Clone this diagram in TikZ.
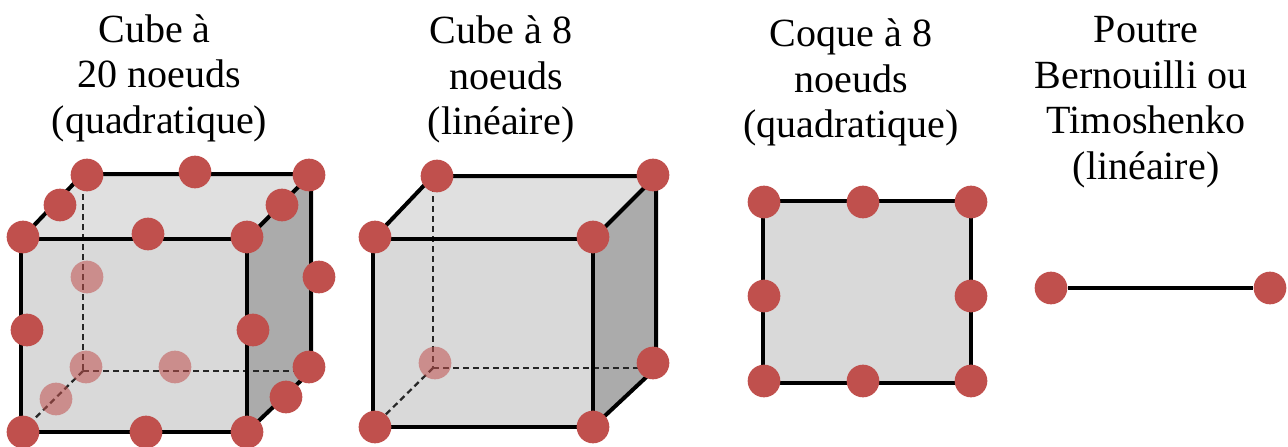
\documentclass[tikz,border=0pt]{standalone}
\usepackage{fontspec}
\setmainfont{Liberation Serif}
\definecolor{nodered}{RGB}{192,80,77}
\definecolor{frontgray}{RGB}{217,217,217}
\definecolor{topgray}{RGB}{224,224,224}
\definecolor{sidegray}{RGB}{171,171,171}
\tikzset{
  pt/.style={circle,fill=nodered,draw=none,minimum size=24.5pt,inner sep=0pt},
  ghost/.style={circle,fill=nodered,fill opacity=.55,draw=none,minimum size=24.5pt,inner sep=0pt},
  edgeline/.style={draw=black,line width=3pt,line join=round},
  hidden/.style={draw=black!85,line width=1.7pt,dash pattern=on 4.5pt off 3pt},
  title/.style={align=center,font=\fontsize{30pt}{34.2pt}\selectfont,inner sep=0pt}
}
\begin{document}
\begin{tikzpicture}[x=0.75pt,y=-0.75pt]
\useasboundingbox (0,0) rectangle (1288,446);
% titles
\node[title] (t1) at (159.5,78) {Cube à\hspace*{0.25em}\\20 noeuds\\(quadratique)};
\node[title] (t2) at (501,79.5) {Cube à 8\\\hspace*{0.25em}noeuds\\(linéaire)};
\node[title] (t3) at (851,82.5) {Coque à 8\\noeuds\\(quadratique)};
\node[title] (t4) at (1146,102) {Poutre\\\mbox{Bernouilli ou\kern 0.25em}\\Timoshenko\\(linéaire)};
% cube 1
\coordinate (a1) at (21,239); \coordinate (a2) at (247,239); \coordinate (a3) at (247,432); \coordinate (a4) at (21,432);
\coordinate (b1) at (83,174); \coordinate (b2) at (311,174); \coordinate (b3) at (311,371); \coordinate (b4) at (83,371);
\fill[frontgray] (a1) rectangle (a3);
\fill[topgray] (a1) -- (b1) -- (b2) -- (a2) -- cycle;
\fill[sidegray] (a2) -- (b2) -- (b3) -- (a3) -- cycle;
\draw[hidden] (b1) -- (b4); \draw[hidden] (b4) -- (b3); \draw[hidden] (b4) -- (a4);
\draw[edgeline] (a1) -- (a2) -- (a3) -- (a4) -- cycle;
\draw[edgeline] (a1) -- (b1) -- (b2) -- (a2);
\draw[edgeline] (b2) -- (b3) -- (a3);
\foreach \n/\p in {c1/{87,175},c2/{195,172},c3/{309,175},c4/{60,205},c5/{282,205},c6/{23,237},c7/{148,234},c8/{247,237},c9/{319,277},c10/{27,330},c11/{253,330},c12/{309,367},c13/{286,397},c14/{23,432},c15/{146,432},c16/{247,432}}
  \node[pt] (\n) at (\p) {};
\foreach \n/\p in {g1/{87,277},g2/{86,367},g3/{175,367},g4/{56,399}}
  \node[ghost] (\n) at (\p) {};
% cube 2
\coordinate (d1) at (373,239); \coordinate (d2) at (593,239); \coordinate (d3) at (593,427); \coordinate (d4) at (373,427);
\coordinate (e1) at (433,176); \coordinate (e2) at (656,176); \coordinate (e3) at (656,368); \coordinate (e4) at (433,368);
\fill[frontgray] (d1) rectangle (d3);
\fill[topgray] (d1) -- (e1) -- (e2) -- (d2) -- cycle;
\fill[sidegray] (d2) -- (e2) -- (e3) -- (d3) -- cycle;
\draw[hidden] (e1) -- (e4); \draw[hidden] (e4) -- (e3); \draw[hidden] (e4) -- (d4);
\draw[edgeline] (d1) -- (d2) -- (d3) -- (d4) -- cycle;
\draw[edgeline] (d1) -- (e1) -- (e2) -- (d2);
\draw[edgeline] (e2) -- (e3) -- (d3);
\foreach \n/\p in {f1/{437,176},f2/{653,175},f3/{375,237},f4/{593,237},f5/{653,363},f6/{375,427},f7/{593,427}}
  \node[pt] (\n) at (\p) {};
\node[ghost] (f8) at (435,363) {};
% shell
\coordinate (s1) at (763,201); \coordinate (s2) at (971,201); \coordinate (s3) at (971,383); \coordinate (s4) at (763,383);
\fill[frontgray] (s1) rectangle (s3);
\draw[edgeline] (s1) -- (s2) -- (s3) -- (s4) -- cycle;
\foreach \n/\p in {h1/{764,202},h2/{863,202},h3/{971,202},h4/{764,296},h5/{971,296},h6/{764,381},h7/{863,381},h8/{971,381}}
  \node[pt] (\n) at (\p) {};
% beam
\node[pt] (p1) at (1051,288) {};
\node[pt] (p2) at (1270,288) {};
\draw[edgeline] (p1) -- (p2);
\end{tikzpicture}
\end{document}
